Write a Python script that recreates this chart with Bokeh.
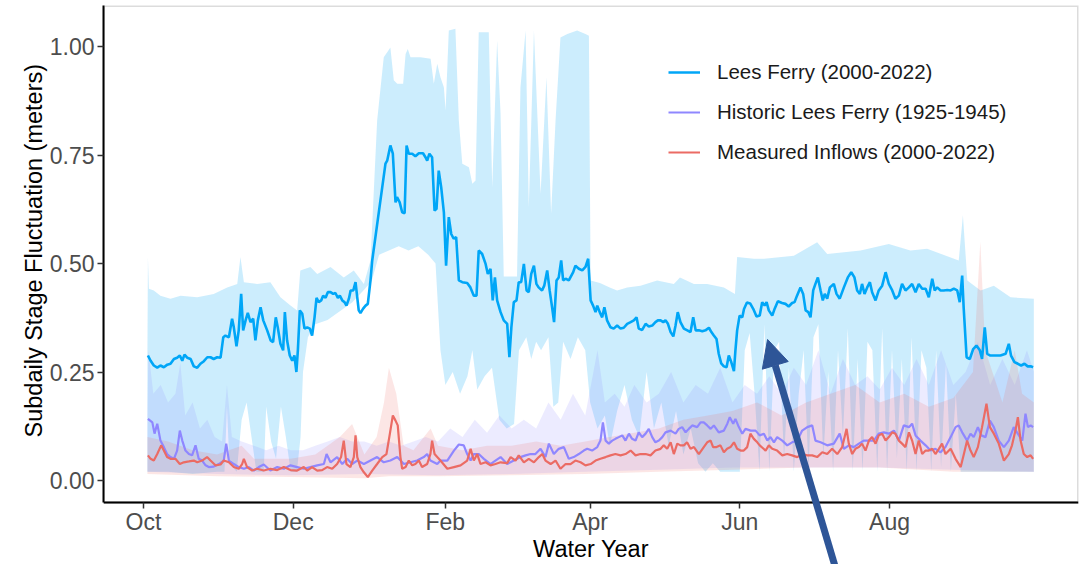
from bokeh.plotting import figure
from bokeh.models import (Range1d, FixedTicker, Legend, LegendItem, Arrow, NormalHead,
                          PrintfTickFormatter, BoxAnnotation, Title)
from bokeh.embed import file_html
from bokeh.resources import INLINE

# ---------------- data (x = days since 1 Oct of the water year) ----------------
month_ticks = [0, 61, 123, 182, 243, 304]
month_labels = ["Oct", "Dec", "Feb", "Apr", "Jun", "Aug"]
y_ticks = [0.0, 0.25, 0.5, 0.75, 1.0]

series_names = ["Lees Ferry (2000-2022)", "Historic Lees Ferry (1925-1945)", "Measured Inflows (2000-2022)"]
x_title = "Water Year"
y_title = "Subdaily Stage Fluctuation (meters)"

# Lees Ferry (2000-2022) median line
lf_day = [1.8, 2.9, 4.2, 5.6, 6.9, 8.3, 9.7, 11.0, 12.4, 13.7, 14.8, 15.8, 16.7, 17.8, 19.2, 20.5, 21.9, 23.2, 24.6, 26.0,
          27.3, 28.6, 30.0, 31.4, 32.5, 33.4, 34.8, 36.1, 36.8, 37.9, 38.8, 39.8, 40.6, 41.6, 42.5, 43.6, 44.7, 45.6, 46.6, 47.7,
          48.8, 50.4, 51.8, 52.8, 53.9, 54.7, 55.8, 56.9, 57.6, 58.5, 59.6, 60.6, 61.5, 62.3, 62.9, 63.7, 64.7, 65.6, 66.7, 67.8,
          68.7, 69.7, 70.5, 71.4, 72.4, 73.2, 74.2, 75.1, 76.2, 77.3, 78.2, 79.2, 80.0, 81.0, 81.9, 82.7, 83.7, 84.4, 85.5, 86.4,
          87.1, 87.7, 88.4, 89.5, 90.5, 91.4, 92.5, 93.2, 98.6, 99.3, 100.6, 101.6, 102.7, 103.3, 104.4, 105.4, 106.4, 107.2, 108.1, 109.5,
          110.8, 112.2, 113.9, 114.9, 115.6, 116.5, 117.6, 118.6, 119.4, 120.3, 121.3, 122.4, 123.3, 124.4, 125.4, 126.4, 127.4, 128.5, 129.9, 131.9,
          133.2, 134.6, 135.7, 136.6, 138.0, 139.4, 140.3, 141.4, 142.3, 143.2, 144.1, 145.5, 146.8, 148.2, 149.1, 149.9, 150.9, 152.0, 152.9, 153.9,
          155.0, 156.1, 157.0, 158.0, 159.1, 160.1, 161.0, 162.4, 163.3, 164.5, 165.5, 166.5, 167.3, 168.3, 169.2, 170.2, 171.0, 172.0, 173.3, 175.1,
          176.0, 177.4, 178.8, 180.1, 181.2, 182.2, 183.2, 184.2, 184.9, 185.9, 186.9, 187.8, 188.9, 190.3, 191.6, 193.0, 194.4, 195.7, 197.1, 198.5,
          199.8, 200.9, 201.8, 203.2, 204.6, 205.9, 207.3, 208.6, 209.6, 210.7, 211.8, 212.7, 213.7, 214.8, 215.9, 216.8, 217.7, 218.8, 220.2, 221.6,
          222.9, 224.0, 225.0, 226.3, 227.7, 229.0, 230.4, 231.4, 232.4, 233.5, 234.4, 235.4, 236.5, 237.6, 238.5, 239.5, 240.6, 241.2, 241.9, 242.9,
          244.0, 244.7, 245.9, 247.2, 248.5, 249.8, 251.1, 252.1, 253.1, 253.9, 254.8, 256.2, 257.2, 258.5, 260.2, 261.6, 262.9, 264.3, 265.3, 266.3,
          267.7, 268.8, 269.8, 270.9, 271.8, 272.9, 273.8, 274.8, 275.9, 276.8, 277.6, 278.6, 279.7, 281.3, 282.4, 283.7, 285.4, 287.0, 288.4, 289.7,
          290.8, 291.9, 292.8, 293.8, 294.9, 296.0, 296.9, 298.3, 299.6, 301.0, 302.4, 303.7, 305.1, 306.4, 307.8, 309.1, 310.5, 311.9, 313.2, 314.6,
          315.9, 317.3, 318.7, 320.0, 321.4, 322.4, 323.4, 324.8, 326.1, 327.5, 328.9, 330.2, 331.6, 332.6, 333.6, 334.2, 335.4, 336.7, 338.1, 339.4,
          340.8, 341.7, 342.8, 343.8, 345.1, 347.2, 349.2, 351.3, 352.6, 353.5, 354.9, 356.3, 357.6, 359.0, 360.3, 361.7, 362.5]
lf_val = [0.288, 0.276, 0.265, 0.260, 0.265, 0.261, 0.267, 0.269, 0.280, 0.283, 0.288, 0.276, 0.290, 0.283, 0.280, 0.263, 0.260, 0.269, 0.275, 0.284,
          0.284, 0.280, 0.284, 0.283, 0.330, 0.334, 0.330, 0.373, 0.353, 0.309, 0.346, 0.430, 0.346, 0.369, 0.386, 0.365, 0.373, 0.323, 0.369, 0.399,
          0.369, 0.346, 0.323, 0.319, 0.376, 0.353, 0.315, 0.300, 0.388, 0.323, 0.288, 0.276, 0.288, 0.250, 0.300, 0.392, 0.384, 0.350, 0.353, 0.350,
          0.334, 0.376, 0.421, 0.411, 0.415, 0.426, 0.421, 0.434, 0.434, 0.430, 0.432, 0.421, 0.426, 0.415, 0.411, 0.403, 0.419, 0.438, 0.438, 0.457,
          0.422, 0.392, 0.386, 0.396, 0.403, 0.407, 0.461, 0.507, 0.730, 0.737, 0.772, 0.753, 0.641, 0.653, 0.641, 0.618, 0.616, 0.772, 0.753, 0.753,
          0.747, 0.754, 0.754, 0.745, 0.737, 0.753, 0.745, 0.622, 0.626, 0.714, 0.676, 0.618, 0.495, 0.607, 0.568, 0.557, 0.561, 0.461, 0.457, 0.455,
          0.445, 0.426, 0.426, 0.530, 0.522, 0.499, 0.476, 0.488, 0.415, 0.468, 0.415, 0.388, 0.369, 0.361, 0.284, 0.353, 0.411, 0.415, 0.457, 0.457,
          0.499, 0.438, 0.434, 0.476, 0.495, 0.453, 0.445, 0.438, 0.449, 0.484, 0.438, 0.399, 0.365, 0.461, 0.468, 0.507, 0.461, 0.465, 0.461, 0.480,
          0.495, 0.488, 0.484, 0.492, 0.511, 0.415, 0.403, 0.388, 0.403, 0.388, 0.376, 0.399, 0.369, 0.353, 0.350, 0.357, 0.350, 0.352, 0.361, 0.365,
          0.369, 0.376, 0.350, 0.347, 0.361, 0.355, 0.357, 0.365, 0.369, 0.369, 0.365, 0.369, 0.361, 0.342, 0.332, 0.357, 0.388, 0.365, 0.350, 0.346,
          0.342, 0.376, 0.346, 0.346, 0.344, 0.346, 0.352, 0.342, 0.334, 0.326, 0.292, 0.270, 0.263, 0.261, 0.288, 0.273, 0.252, 0.300, 0.346, 0.380,
          0.376, 0.395, 0.410, 0.408, 0.395, 0.378, 0.380, 0.411, 0.403, 0.411, 0.392, 0.380, 0.396, 0.413, 0.409, 0.407, 0.401, 0.409, 0.411, 0.426,
          0.445, 0.430, 0.392, 0.388, 0.376, 0.438, 0.453, 0.468, 0.438, 0.415, 0.430, 0.419, 0.445, 0.453, 0.430, 0.419, 0.445, 0.468, 0.480, 0.468,
          0.438, 0.430, 0.453, 0.430, 0.445, 0.457, 0.434, 0.415, 0.438, 0.449, 0.480, 0.453, 0.438, 0.419, 0.426, 0.453, 0.438, 0.445, 0.453, 0.434,
          0.453, 0.442, 0.442, 0.422, 0.465, 0.438, 0.445, 0.438, 0.438, 0.439, 0.438, 0.442, 0.438, 0.411, 0.472, 0.399, 0.284, 0.280, 0.303, 0.311,
          0.300, 0.280, 0.353, 0.292, 0.288, 0.288, 0.288, 0.292, 0.315, 0.288, 0.273, 0.269, 0.265, 0.269, 0.263, 0.263, 0.261]

# Lees Ferry (2000-2022) band: upper and lower edges
lf_up_day = [1.6, 1.8, 2.2, 4.2, 6.9, 11.0, 15.1, 21.9, 28.6, 34.1, 38.2, 39.5, 40.9, 46.3, 51.7, 55.8, 59.9, 62.6, 63.9, 68.0,
             70.8, 76.2, 81.6, 85.7, 89.8, 92.5, 95.2, 97.9, 99.3, 100.6, 102.0, 103.4, 105.8, 106.8, 107.7, 108.8, 112.9, 117.0, 118.3, 119.7,
             121.0, 122.4, 123.1, 124.4, 127.1, 128.5, 129.9, 132.6, 134.0, 135.3, 136.6, 140.7, 142.1, 144.1, 145.5, 146.8, 152.2, 153.6, 155.7, 157.0,
             159.1, 161.8, 164.2, 166.1, 167.9, 169.9, 172.7, 176.7, 180.1, 181.5, 182.2, 186.0, 190.0, 193.0, 197.1, 202.5, 209.3, 216.1, 218.6, 224.3,
             229.7, 236.5, 241.0, 241.9, 248.7, 252.9, 265.0, 274.5, 278.6, 292.2, 303.7, 312.5, 319.3, 332.2, 333.9, 335.7, 341.1, 346.5, 353.3, 362.8]
lf_up_val = [0.300, 0.515, 0.442, 0.438, 0.426, 0.419, 0.426, 0.422, 0.430, 0.445, 0.453, 0.515, 0.457, 0.453, 0.457, 0.422, 0.403, 0.392, 0.484, 0.492,
             0.476, 0.492, 0.468, 0.484, 0.453, 0.507, 0.829, 0.975, 0.987, 0.998, 0.922, 0.914, 0.914, 0.983, 0.994, 0.975, 0.975, 0.972, 0.914, 0.960,
             0.929, 0.906, 0.853, 1.037, 1.041, 0.829, 0.730, 0.722, 0.684, 0.691, 1.033, 1.033, 0.676, 1.014, 0.845, 0.470, 0.470, 0.906, 1.037, 0.630,
             1.037, 0.661, 0.929, 0.615, 0.829, 1.021, 1.029, 1.037, 1.029, 1.025, 0.461, 0.455, 0.445, 0.438, 0.445, 0.449, 0.461, 0.453, 0.468, 0.453,
             0.453, 0.445, 0.430, 0.515, 0.511, 0.511, 0.518, 0.549, 0.522, 0.530, 0.545, 0.530, 0.534, 0.507, 0.611, 0.461, 0.438, 0.449, 0.422, 0.419]
lf_lo_day = [1.6, 10, 20, 30, 33, 34, 35, 38, 40, 42, 44, 46, 49, 50, 52, 54, 56, 58, 60, 62.5,
             64, 65, 67, 70, 75, 80, 85, 90, 93, 96, 100, 104, 108, 112, 116, 119, 121, 123, 126, 129,
             132, 134, 136, 139, 142, 145, 148, 151, 153, 156, 158, 160, 162, 165, 167, 169, 171, 174, 177, 180,
             182, 185, 188, 190, 193, 196, 199, 202, 205, 208, 211, 214, 217, 220, 223, 226, 229, 232, 235, 238,
             241, 243, 245, 247, 249, 251, 253, 255, 257, 259, 261, 263, 265, 267, 269, 271, 273, 275, 277, 279,
             281, 283, 285, 287, 289, 291, 293, 295, 297, 299, 301, 303, 305, 307, 309, 311, 313, 315, 317, 319,
             321, 323, 325, 327, 329, 331, 333, 336, 340, 345, 350, 355, 360, 362.8]
lf_lo_val = [0.02, 0.02, 0.015, 0.02, 0.02, 0.17, 0.04, 0.02, 0.14, 0.18, 0.10, 0.02, 0.02, 0.17, 0.09, 0.05, 0.17, 0.10, 0.02, 0.02,
             0.10, 0.25, 0.33, 0.36, 0.37, 0.39, 0.41, 0.44, 0.46, 0.52, 0.53, 0.54, 0.53, 0.54, 0.52, 0.50, 0.30, 0.22, 0.25, 0.20,
             0.24, 0.30, 0.21, 0.24, 0.26, 0.14, 0.12, 0.13, 0.30, 0.33, 0.28, 0.32, 0.30, 0.33, 0.17, 0.18, 0.32, 0.28, 0.33, 0.30,
             0.18, 0.12, 0.15, 0.08, 0.16, 0.22, 0.14, 0.10, 0.25, 0.12, 0.18, 0.08, 0.16, 0.06, 0.12, 0.04, 0.02, 0.04, 0.02, 0.02,
             0.02, 0.02, 0.30, 0.34, 0.20, 0.02, 0.36, 0.02, 0.30, 0.32, 0.05, 0.26, 0.02, 0.20, 0.30, 0.02, 0.33, 0.36, 0.05, 0.25,
             0.02, 0.30, 0.10, 0.35, 0.02, 0.28, 0.02, 0.32, 0.30, 0.02, 0.35, 0.02, 0.30, 0.05, 0.28, 0.02, 0.33, 0.02, 0.30, 0.26,
             0.02, 0.30, 0.03, 0.27, 0.02, 0.20, 0.02, 0.02, 0.02, 0.02, 0.02, 0.02, 0.02, 0.02]

# Historic Lees Ferry (1925-1945) median line
hist_day = [1.8, 3.6, 4.5, 5.6, 6.9, 8.3, 9.6, 11.0, 12.4, 13.7, 14.8, 15.8, 17.1, 18.5, 19.8, 21.2, 22.5, 23.9, 25.3, 26.6,
            28.6, 30.7, 32.7, 33.7, 34.8, 36.8, 38.8, 40.9, 42.9, 45.0, 47.0, 49.0, 51.7, 54.5, 57.2, 59.9, 62.6, 65.3, 68.0, 70.8,
            73.5, 74.6, 76.2, 78.9, 81.0, 83.0, 85.0, 87.1, 89.8, 92.5, 95.2, 97.9, 100.6, 103.4, 106.1, 108.8, 111.5, 114.2, 115.6, 116.9,
            119.7, 121.0, 123.8, 126.5, 128.5, 130.5, 131.9, 133.3, 134.6, 136.6, 138.7, 141.4, 143.4, 145.5, 148.2, 150.9, 153.6, 155.7, 157.7, 159.7,
            161.8, 163.8, 165.2, 167.2, 169.2, 171.3, 173.3, 175.3, 177.4, 179.4, 180.8, 182.8, 184.9, 186.2, 187.2, 188.3, 189.6, 191.0, 192.3, 193.7,
            195.1, 196.4, 197.8, 199.1, 200.5, 201.8, 203.2, 204.6, 205.9, 207.3, 208.6, 210.0, 211.4, 212.7, 214.8, 216.8, 218.1, 219.5, 220.9, 222.2,
            223.6, 225.6, 227.0, 228.3, 229.7, 231.1, 232.4, 234.4, 236.5, 237.9, 238.9, 240.3, 241.2, 242.3, 244.0, 245.3, 247.4, 249.4, 251.1, 252.8,
            254.2, 255.5, 256.9, 258.2, 260.3, 262.3, 264.3, 266.4, 268.4, 270.5, 272.5, 273.8, 275.9, 278.6, 281.3, 283.7, 285.4, 287.4, 289.4, 291.5,
            293.5, 295.6, 297.6, 299.6, 301.7, 303.7, 305.8, 307.8, 309.8, 311.9, 313.2, 314.6, 316.6, 318.7, 320.7, 322.7, 324.8, 326.8, 328.9, 330.9,
            332.2, 333.6, 335.6, 337.0, 338.3, 340.0, 341.4, 343.1, 344.9, 346.5, 348.5, 350.6, 352.6, 354.6, 356.7, 358.1, 359.4, 360.4, 361.5, 362.5]
hist_val = [0.142, 0.134, 0.108, 0.131, 0.092, 0.077, 0.061, 0.054, 0.050, 0.069, 0.115, 0.092, 0.069, 0.061, 0.058, 0.081, 0.050, 0.046, 0.035, 0.031,
            0.032, 0.038, 0.046, 0.085, 0.046, 0.038, 0.031, 0.027, 0.031, 0.023, 0.031, 0.037, 0.023, 0.031, 0.027, 0.035, 0.031, 0.027, 0.031, 0.035,
            0.038, 0.061, 0.042, 0.054, 0.038, 0.050, 0.038, 0.046, 0.038, 0.046, 0.054, 0.042, 0.046, 0.054, 0.038, 0.042, 0.046, 0.054, 0.061, 0.046,
            0.038, 0.046, 0.046, 0.069, 0.083, 0.081, 0.061, 0.046, 0.061, 0.061, 0.050, 0.038, 0.046, 0.054, 0.038, 0.046, 0.054, 0.058, 0.061, 0.061,
            0.073, 0.054, 0.085, 0.061, 0.073, 0.077, 0.050, 0.054, 0.061, 0.069, 0.073, 0.069, 0.077, 0.092, 0.134, 0.092, 0.085, 0.092, 0.096, 0.100,
            0.104, 0.092, 0.108, 0.096, 0.092, 0.111, 0.100, 0.108, 0.119, 0.100, 0.088, 0.092, 0.100, 0.111, 0.115, 0.108, 0.119, 0.123, 0.111, 0.119,
            0.127, 0.123, 0.134, 0.134, 0.127, 0.119, 0.127, 0.111, 0.115, 0.131, 0.146, 0.131, 0.142, 0.127, 0.108, 0.119, 0.115, 0.115, 0.104, 0.108,
            0.092, 0.100, 0.088, 0.100, 0.092, 0.081, 0.088, 0.092, 0.115, 0.123, 0.127, 0.092, 0.088, 0.081, 0.085, 0.108, 0.073, 0.081, 0.077, 0.085,
            0.092, 0.092, 0.092, 0.108, 0.111, 0.108, 0.115, 0.092, 0.127, 0.123, 0.131, 0.104, 0.092, 0.081, 0.069, 0.073, 0.065, 0.077, 0.100, 0.123,
            0.127, 0.111, 0.092, 0.108, 0.100, 0.123, 0.104, 0.100, 0.138, 0.123, 0.092, 0.077, 0.092, 0.123, 0.104, 0.092, 0.154, 0.123, 0.127, 0.123]

hist_up_day = [1.6, 2, 4, 7, 10, 13, 15, 17, 20, 23, 26, 29, 32, 34, 36, 40, 45, 50, 55, 60,
               65, 70, 75, 80, 85, 90, 95, 100, 105, 110, 115, 120, 125, 130, 135, 140, 145, 150, 155, 160,
               165, 170, 175, 180, 185, 188, 192, 196, 200, 205, 210, 215, 220, 225, 230, 235, 240, 245, 250, 255,
               260, 265, 270, 275, 280, 285, 290, 295, 300, 305, 310, 315, 320, 325, 330, 335, 340, 345, 350, 355,
               360, 362.8]
hist_up_val = [0.15, 0.30, 0.20, 0.22, 0.18, 0.20, 0.27, 0.15, 0.18, 0.12, 0.14, 0.10, 0.09, 0.22, 0.10, 0.09, 0.08, 0.07, 0.08, 0.07,
               0.07, 0.08, 0.09, 0.10, 0.09, 0.09, 0.08, 0.09, 0.08, 0.09, 0.10, 0.09, 0.12, 0.10, 0.14, 0.11, 0.15, 0.12, 0.14, 0.12,
               0.18, 0.14, 0.20, 0.15, 0.30, 0.18, 0.20, 0.17, 0.22, 0.18, 0.20, 0.25, 0.18, 0.22, 0.20, 0.26, 0.18, 0.22, 0.20, 0.24,
               0.20, 0.26, 0.22, 0.30, 0.20, 0.28, 0.22, 0.24, 0.21, 0.26, 0.22, 0.28, 0.22, 0.30, 0.22, 0.25, 0.32, 0.22, 0.28, 0.22,
               0.30, 0.25]
hist_lo_day = [1.6, 30, 60, 90, 120, 150, 180, 210, 240, 270, 300, 330, 362.8]
hist_lo_val = [0.020, 0.015, 0.012, 0.015, 0.012, 0.015, 0.020, 0.025, 0.030, 0.030, 0.030, 0.025, 0.020]

# Measured Inflows (2000-2022) median line
inf_day = [1.8, 2.9, 4.2, 5.6, 7.2, 8.3, 9.6, 11.0, 13.0, 14.8, 16.4, 18.5, 20.5, 21.9, 23.9, 25.9, 27.3, 29.3, 31.4, 32.7,
           34.8, 36.8, 38.8, 40.2, 40.9, 42.2, 44.3, 46.3, 49.0, 51.7, 54.5, 57.2, 59.9, 62.6, 65.3, 66.7, 68.7, 70.8, 72.8, 74.8,
           76.9, 78.9, 80.5, 81.6, 82.7, 84.3, 85.7, 86.4, 87.1, 88.4, 89.8, 91.4, 93.2, 95.2, 97.3, 99.0, 100.4, 101.6, 102.7, 103.6,
           104.7, 105.4, 106.8, 108.1, 109.5, 110.8, 112.2, 113.5, 115.6, 116.9, 117.6, 118.6, 119.7, 121.0, 123.8, 126.5, 129.2, 131.9, 133.3, 134.6,
           136.0, 137.3, 139.4, 141.4, 143.4, 145.5, 148.2, 149.6, 151.6, 152.9, 155.0, 157.0, 159.1, 161.1, 162.5, 163.8, 165.9, 167.9, 169.9, 172.0,
           174.0, 176.0, 178.1, 180.1, 182.2, 184.2, 186.2, 188.3, 190.3, 192.3, 194.4, 196.4, 198.5, 200.5, 202.5, 204.6, 206.6, 208.6, 210.7, 212.0,
           213.4, 214.8, 216.1, 217.5, 218.8, 220.2, 221.5, 222.9, 224.3, 226.3, 228.3, 229.7, 231.1, 232.1, 233.5, 235.1, 236.5, 237.8, 239.2, 240.6,
           241.9, 243.3, 244.6, 246.0, 247.3, 248.7, 250.1, 251.1, 253.5, 254.8, 256.2, 258.2, 260.3, 262.3, 264.3, 266.4, 268.4, 270.4, 272.5, 274.5,
           276.6, 278.6, 280.6, 282.7, 284.7, 286.5, 287.4, 288.8, 290.1, 291.5, 292.8, 294.2, 295.6, 296.9, 298.3, 299.6, 301.0, 302.4, 303.7, 305.1,
           306.4, 307.8, 309.1, 310.5, 311.9, 313.2, 314.6, 315.9, 317.3, 318.7, 320.0, 321.4, 322.7, 324.1, 325.4, 326.8, 328.9, 330.9, 333.0, 334.3,
           335.6, 337.0, 338.3, 340.0, 341.7, 343.5, 344.9, 346.5, 348.5, 350.6, 352.6, 353.9, 355.3, 356.3, 357.4, 358.7, 360.1, 361.5, 362.5]
inf_val = [0.058, 0.050, 0.046, 0.061, 0.081, 0.069, 0.054, 0.050, 0.050, 0.038, 0.042, 0.044, 0.046, 0.042, 0.046, 0.054, 0.046, 0.035, 0.037, 0.046,
           0.042, 0.031, 0.027, 0.038, 0.050, 0.031, 0.023, 0.027, 0.023, 0.027, 0.024, 0.031, 0.024, 0.023, 0.031, 0.023, 0.031, 0.023, 0.024, 0.031,
           0.027, 0.038, 0.054, 0.092, 0.038, 0.031, 0.054, 0.104, 0.054, 0.031, 0.019, 0.008, 0.023, 0.038, 0.054, 0.061, 0.108, 0.150, 0.138, 0.127,
           0.054, 0.027, 0.031, 0.046, 0.035, 0.038, 0.046, 0.031, 0.038, 0.061, 0.092, 0.061, 0.054, 0.046, 0.027, 0.031, 0.035, 0.046, 0.073, 0.046,
           0.061, 0.038, 0.042, 0.035, 0.038, 0.042, 0.040, 0.054, 0.046, 0.058, 0.042, 0.050, 0.042, 0.054, 0.061, 0.046, 0.038, 0.046, 0.027, 0.038,
           0.038, 0.046, 0.042, 0.035, 0.038, 0.046, 0.050, 0.054, 0.058, 0.061, 0.058, 0.061, 0.069, 0.058, 0.061, 0.061, 0.058, 0.069, 0.073, 0.081,
           0.073, 0.088, 0.061, 0.085, 0.081, 0.081, 0.088, 0.073, 0.077, 0.061, 0.077, 0.088, 0.092, 0.077, 0.077, 0.081, 0.065, 0.073, 0.077, 0.088,
           0.073, 0.069, 0.069, 0.077, 0.108, 0.096, 0.088, 0.081, 0.069, 0.081, 0.073, 0.069, 0.058, 0.061, 0.058, 0.054, 0.061, 0.058, 0.058, 0.054,
           0.065, 0.061, 0.073, 0.061, 0.077, 0.119, 0.085, 0.061, 0.073, 0.077, 0.085, 0.069, 0.092, 0.100, 0.085, 0.104, 0.108, 0.092, 0.100, 0.111,
           0.108, 0.092, 0.085, 0.077, 0.111, 0.092, 0.061, 0.092, 0.061, 0.069, 0.069, 0.073, 0.061, 0.073, 0.085, 0.061, 0.073, 0.050, 0.031, 0.061,
           0.092, 0.069, 0.054, 0.077, 0.123, 0.177, 0.123, 0.108, 0.085, 0.046, 0.061, 0.081, 0.115, 0.146, 0.092, 0.061, 0.054, 0.058, 0.050]

inf_up_day = [1.6, 10, 20, 30, 40, 45, 50, 60, 70, 80, 85, 90, 95, 98, 100, 103, 106, 110, 117, 120,
              130, 140, 150, 160, 170, 180, 190, 200, 210, 220, 230, 240, 250, 260, 270, 280, 290, 300, 310, 320,
              330, 338, 341, 343, 350, 355, 358, 362.8]
inf_up_val = [0.10, 0.09, 0.07, 0.06, 0.08, 0.05, 0.05, 0.05, 0.06, 0.10, 0.13, 0.06, 0.10, 0.18, 0.26, 0.20, 0.08, 0.07, 0.12, 0.08,
              0.07, 0.08, 0.08, 0.09, 0.08, 0.09, 0.10, 0.11, 0.12, 0.14, 0.15, 0.16, 0.18, 0.15, 0.18, 0.20, 0.22, 0.18, 0.20, 0.17,
              0.19, 0.25, 0.55, 0.30, 0.18, 0.30, 0.20, 0.18]
inf_lo_day = [1.6, 30, 60, 90, 100, 120, 150, 180, 210, 240, 270, 300, 330, 362.8]
inf_lo_val = [0.015, 0.010, 0.008, 0.005, 0.010, 0.010, 0.012, 0.015, 0.020, 0.025, 0.030, 0.030, 0.020, 0.020]

# annotation arrow (tip / tail), in axis units
arrow_tip = (254.3, 0.325)
arrow_tail = (284.5, -0.249)

# ---------------- layout constants ----------------
FONT = "Liberation Sans"
c_lf, c_hist, c_inf = "#00A6F7", "#8F87FF", "#EB6B64"
X0, X1 = -16.3, 381.0            # visible day range
Y_AXIS, Y_TOP = -0.0507, 1.0945  # where the x axis sits / top of panel
Y_BOTTOM = -0.1935               # canvas bottom (room for the annotation arrow)

p = figure(width=1082, height=564, output_backend="svg", toolbar_location=None,
           x_range=Range1d(X0, X1), y_range=Range1d(Y_BOTTOM, Y_TOP),
           min_border_left=103, min_border_right=4, min_border_top=5, min_border_bottom=0,
           background_fill_color="white", border_fill_color="white")
p.outline_line_color = None
p.xgrid.grid_line_color = None
p.ygrid.grid_line_color = None

# panel border (grey top/right; black axis lines cover left/bottom)
p.add_layout(BoxAnnotation(bottom=Y_AXIS, fill_alpha=0, line_color="#8A8A8A", line_width=3, level="underlay"))


def band(up_d, up_v, lo_d, lo_v):
    return list(up_d) + list(reversed(lo_d)), list(up_v) + list(reversed(lo_v))


bx, by = band(lf_up_day, lf_up_val, lf_lo_day, lf_lo_val)
p.patch(bx, by, fill_color=c_lf, fill_alpha=0.2, line_color=None)
bx, by = band(hist_up_day, hist_up_val, hist_lo_day, hist_lo_val)
p.patch(bx, by, fill_color=c_hist, fill_alpha=0.17, line_color=None)
bx, by = band(inf_up_day, inf_up_val, inf_lo_day, inf_lo_val)
p.patch(bx, by, fill_color=c_inf, fill_alpha=0.17, line_color=None)

r_hist = p.line(hist_day, hist_val, line_color=c_hist, line_width=2.2)
r_inf = p.line(inf_day, inf_val, line_color=c_inf, line_width=2.2)
r_lf = p.line(lf_day, lf_val, line_color=c_lf, line_width=2.6)

# axes
p.xaxis.fixed_location = Y_AXIS
p.yaxis.bounds = (Y_AXIS, Y_TOP)
p.xaxis.ticker = FixedTicker(ticks=month_ticks)
p.xaxis.major_label_overrides = {t: l for t, l in zip(month_ticks, month_labels)}
p.yaxis.ticker = FixedTicker(ticks=y_ticks)
p.yaxis.formatter = PrintfTickFormatter(format="%.2f")
p.xaxis.axis_label = x_title
for ax in (p.xaxis, p.yaxis):
    ax.axis_line_color = "black"
    ax.axis_line_width = 2
    ax.major_tick_line_color = "#333333"
    ax.major_tick_line_width = 1.5
    ax.major_tick_out = 6
    ax.major_tick_in = 0
    ax.minor_tick_line_color = None
    ax.major_label_text_font = FONT
    ax.major_label_text_font_size = "23px"
    ax.major_label_text_color = "#4D4D4D"
    ax.axis_label_text_font = FONT
    ax.axis_label_text_font_size = "23.5px"
    ax.axis_label_text_font_style = "normal"
    ax.axis_label_text_color = "black"
p.xaxis.major_label_standoff = 0
p.xaxis.axis_label_standoff = -2
p.yaxis.major_label_standoff = 3

# y title placed along the panel part of the axis (the frame extends below for the arrow)
p.add_layout(Title(text=y_title, align="left", offset=127, text_font=FONT, text_font_size="23.5px",
                   text_font_style="normal", text_color="black", standoff=0), "left")

legend = Legend(items=[LegendItem(label=series_names[0], renderers=[r_lf]),
                       LegendItem(label=series_names[1], renderers=[r_hist]),
                       LegendItem(label=series_names[2], renderers=[r_inf])],
                location=(565, 399), orientation="vertical",
                glyph_width=32, glyph_height=26, label_height=26, label_standoff=17, spacing=14,
                padding=0, margin=0, border_line_color=None, background_fill_alpha=0,
                label_text_font=FONT, label_text_font_size="20.5px", label_text_color="#1A1A1A")
p.add_layout(legend)

arrow_color = "#2E5597"
p.add_layout(Arrow(end=NormalHead(size=27, fill_color=arrow_color, line_color=arrow_color),
                   x_start=arrow_tail[0], y_start=arrow_tail[1], x_end=arrow_tip[0], y_end=arrow_tip[1],
                   line_color=arrow_color, line_width=7, level="overlay"))

open("out.html", "w").write(file_html(p, INLINE))
